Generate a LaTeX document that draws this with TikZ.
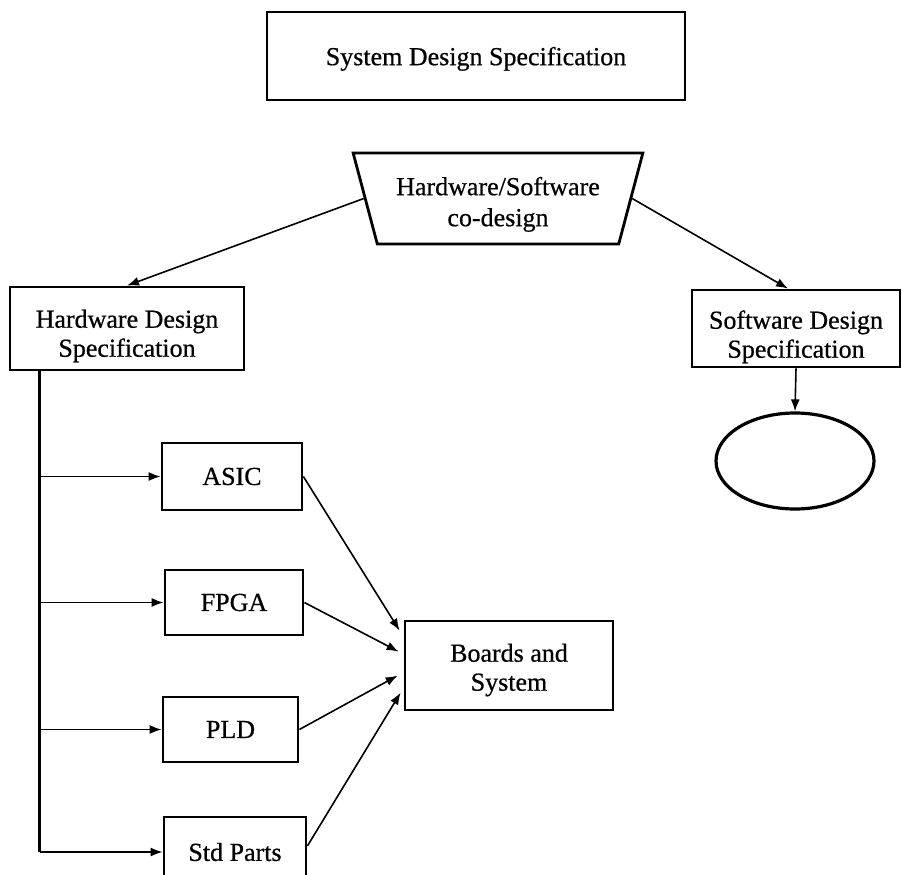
\documentclass[tikz,border=0pt]{standalone}
\usepackage{fontspec}
\setmainfont[FakeBold=0.6]{Liberation Serif}
\usetikzlibrary{shapes.geometric,arrows.meta,calc}
\newcommand{\lowerby}[1]{\rule{0pt}{#1}}
\begin{document}
\begin{tikzpicture}[x=1pt,y=-1pt,
  box/.style={draw, line width=2.8pt, inner sep=0pt, align=center,
              font=\fontsize{26}{29}\selectfont},
  link/.style={line width=1.6pt, -{Latex[length=12pt,width=9pt]}},
  trunk/.style={line width=2.8pt},
]
\useasboundingbox (0,0) rectangle (902,875);
\clip (0,0) rectangle (902,875);

% top level
\node[box, minimum width=418pt, minimum height=88pt] (sys) at (476,56) {\lowerby{24pt}System Design Specification};
\node[box, trapezium, shape border rotate=180, trapezium left angle=73,
      trapezium right angle=73, trapezium stretches=true,
      minimum width=290pt, minimum height=91pt,
      font=\fontsize{26}{31}\selectfont] (trap) at (498,198.5) {\lowerby{30pt}Hardware/Software\\co-design};

% hardware and software branches
\node[box, minimum width=234pt, minimum height=83pt] (hw) at (127,328.5) {\lowerby{33pt}Hardware Design\\Specification};
\node[box, minimum width=208pt, minimum height=77pt] (sw) at (796,328.5) {\lowerby{35pt}Software Design\\Specification};
\node[box, ellipse, line width=3.2pt, minimum width=158pt, minimum height=96pt] (ell) at (795,461) {};

% hardware targets
\node[box, minimum width=140pt, minimum height=67pt] (asic) at (232,476.5) {ASIC};
\node[box, minimum width=138pt, minimum height=65pt] (fpga) at (234,602.5) {FPGA};
\node[box, minimum width=135pt, minimum height=65pt] (pld)  at (230.5,729.5) {PLD};
\node[box, minimum width=142pt, minimum height=70pt] (std)  at (235,852) {Std Parts};
\node[box, minimum width=208pt, minimum height=89pt] (brd)  at (509,665.5) {\lowerby{27pt}Boards and\\System};

% connectors
\draw[link] (trap.west) -- (hw.north);
\draw[link] (trap.east) -- ($(sw.north)+(-8,0)$);
\draw[link] (sw.south) -- (ell.north);

\coordinate (ttop) at ($(hw.south west)+(31,0)$);
\coordinate (tbot) at (ttop |- std.west);
\draw[trunk] (ttop) -- (tbot);
\draw[link] (ttop |- asic.west) -- (asic.west);
\draw[link] (ttop |- fpga.west) -- (fpga.west);
\draw[link] (ttop |- pld.west) -- (pld.west);
\draw[link] (tbot) -- (std.west);

\coordinate (in1) at ($(brd.north west)+(-4,11)$);
\coordinate (in2) at ($(brd.north west)+(-5,32)$);
\coordinate (in3) at ($(brd.north west)+(-6,56)$);
\coordinate (in4) at ($(brd.north west)+(-3,73)$);
\draw[link] (asic.east) -- (in1);
\draw[link] (fpga.east) -- (in2);
\draw[link] (pld.east) -- (in3);
\draw[link] ($(std.east)+(0,-6)$) -- (in4);
\end{tikzpicture}
\end{document}
